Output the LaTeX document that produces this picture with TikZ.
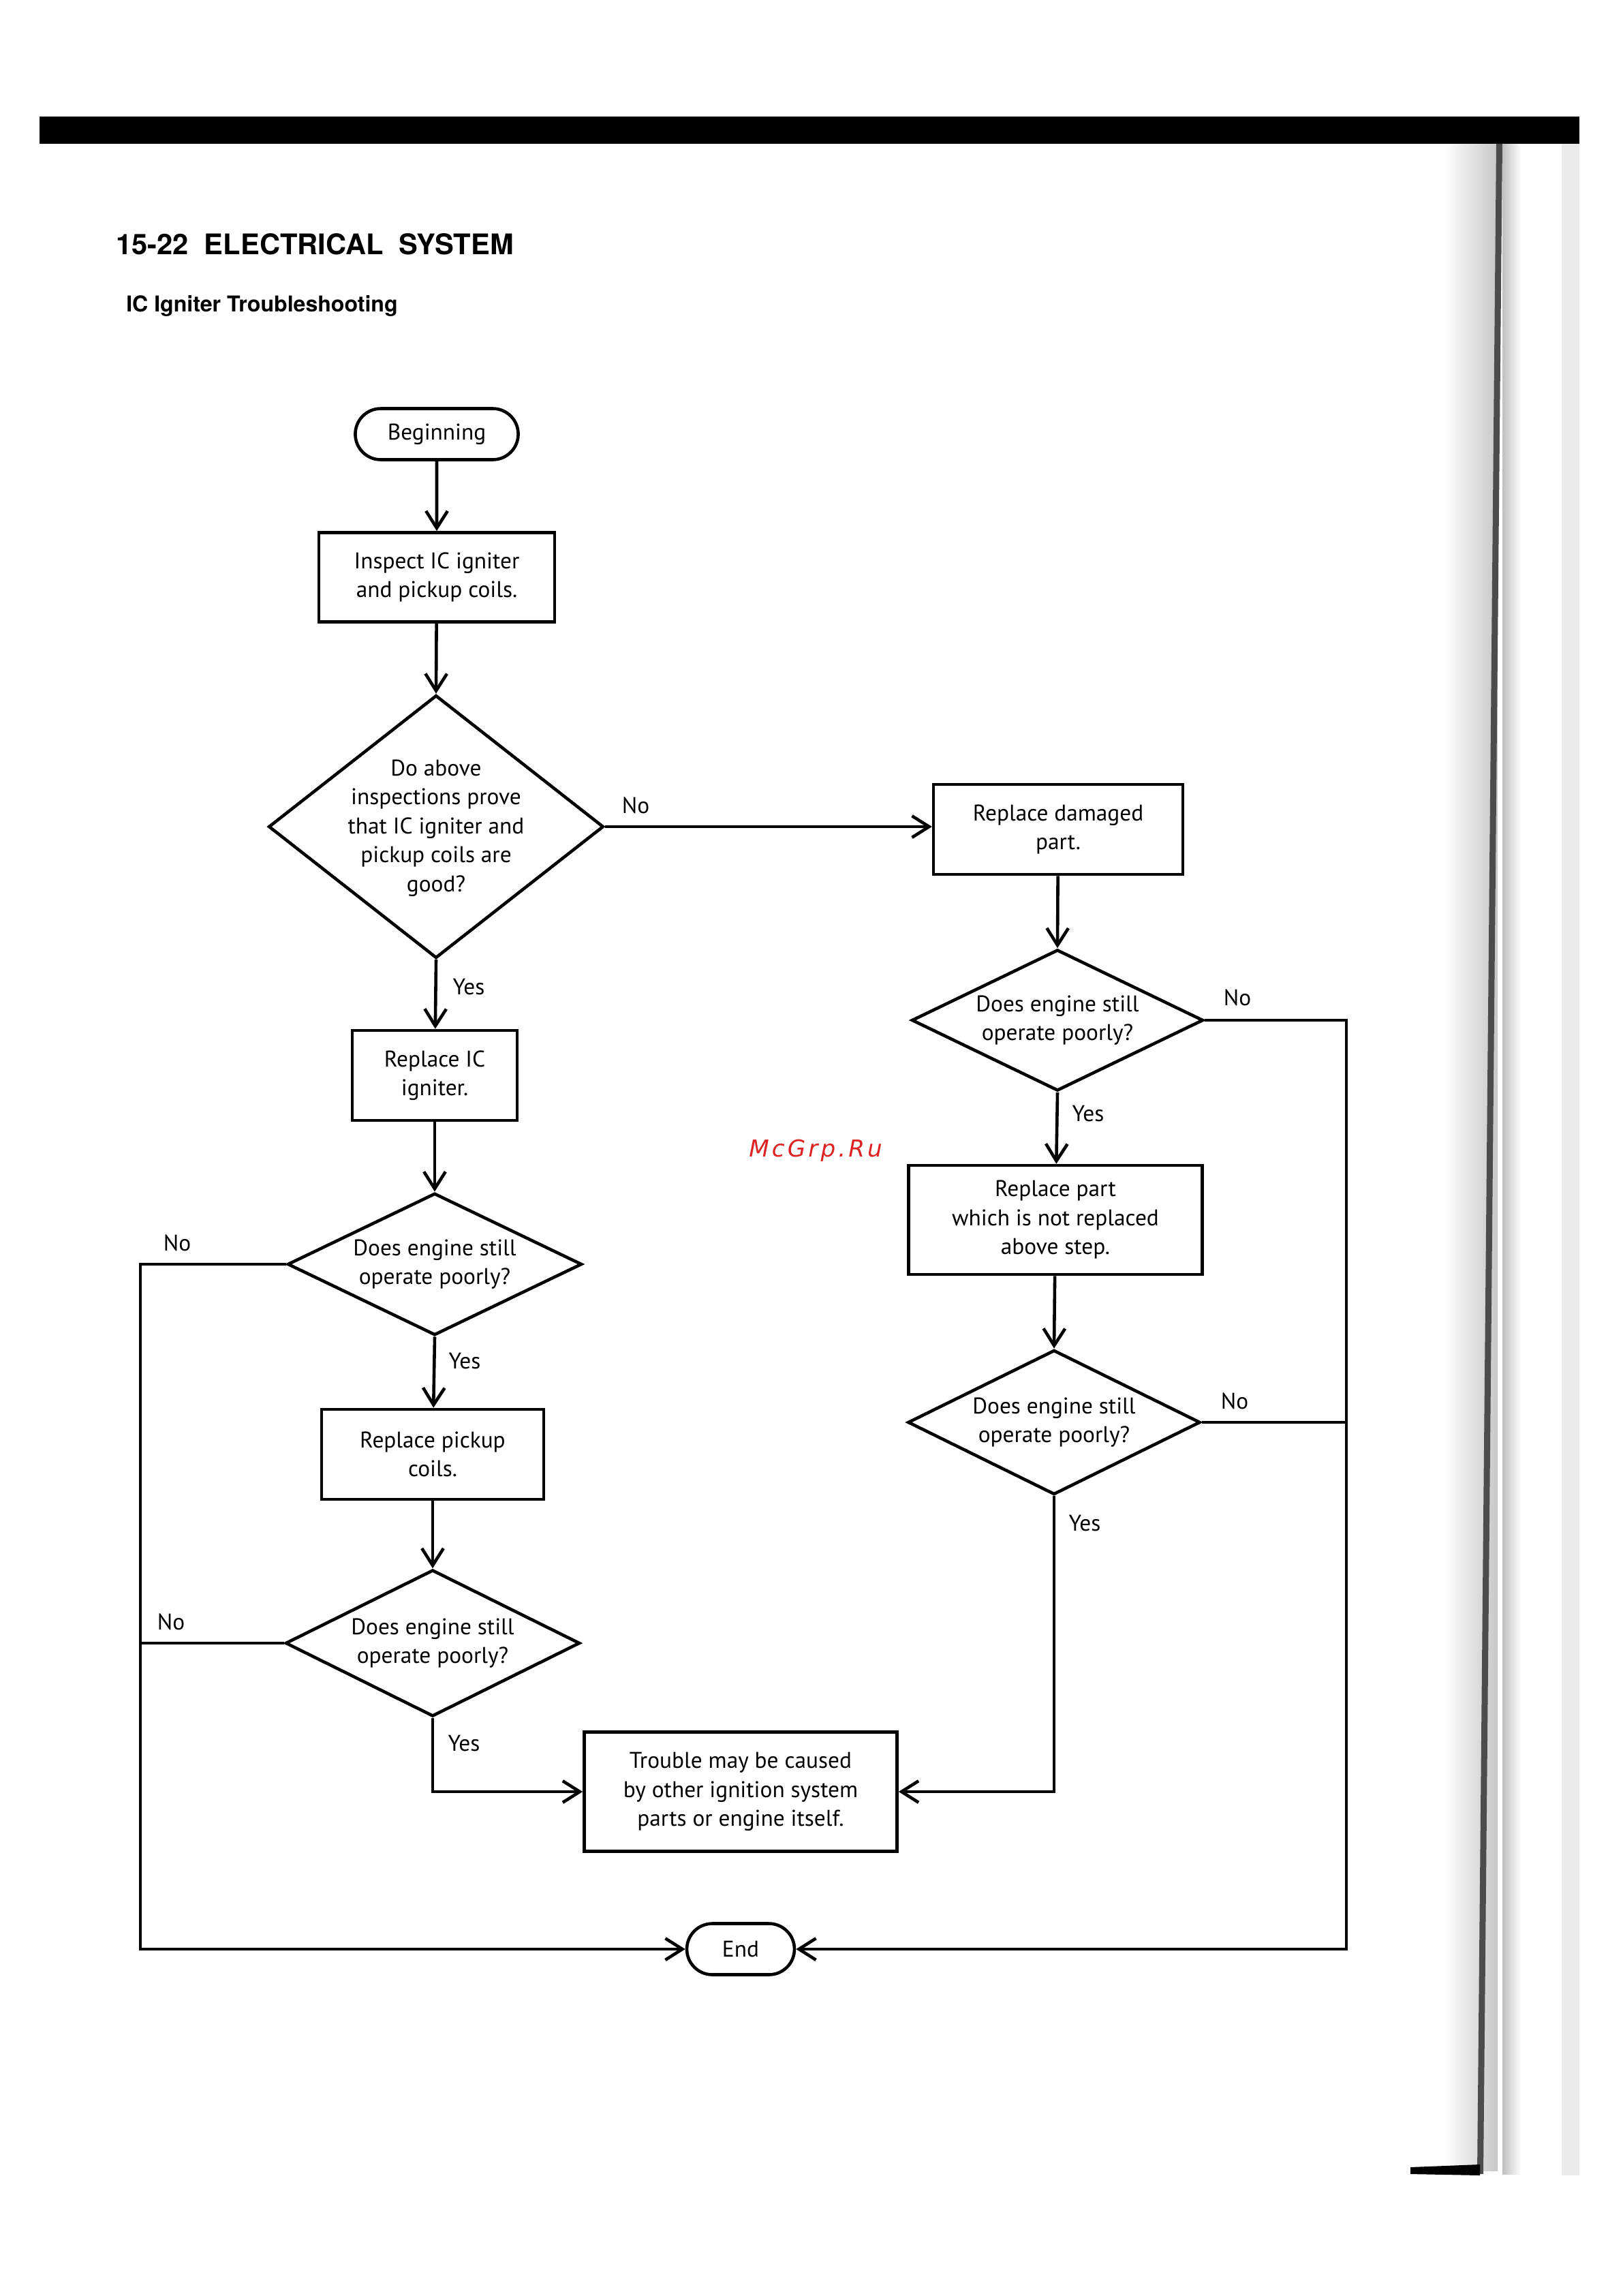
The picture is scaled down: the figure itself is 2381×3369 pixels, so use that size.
\documentclass[tikz,border=0pt]{standalone}
\usepackage{fontspec}
\setmainfont{PT Sans}
\newfontfamily\headfont{TeX Gyre Heros}
\newfontfamily\wmfont[LetterSpace=12]{DejaVu Sans}
\usetikzlibrary{arrows.meta,shapes.geometric,shapes.misc,calc}
\definecolor{wmred}{HTML}{DD2222}
\begin{document}
\begin{tikzpicture}[x=0.24pt,y=-0.24pt,
  line width=1.1pt,
  every node/.style={font=\fontsize{8}{10.2}\selectfont, align=center, inner sep=0pt},
  arr/.style={-{Straight Barb[length=6pt,width=7.6pt,line width=1.1pt]}},
  term/.style={draw, rounded rectangle, minimum height=18pt},
  box/.style={draw, rectangle},
  dia/.style={draw, diamond, inner sep=0pt},
  lbl/.style={font=\fontsize{8}{10}\selectfont}
]
\useasboundingbox (0,0) rectangle (2381,3369);
\fill[white] (0,0) rectangle (2381,3369);

% page decorations (header bar, gutter)
\fill[black] (58,171) rectangle (2318,211);
\shade[left color=white, right color=black!22] (2120,211) rectangle (2198,3185);
\fill[black!70] (2196,211) -- (2205,211) -- (2177,3190) -- (2168,3190) -- cycle;
\shade[left color=black!25, right color=white] (2205,211) rectangle (2232,3190);
\fill[black!8] (2292,211) rectangle (2318,3192);
\fill[black] (2070,3180) -- (2172,3176) -- (2172,3192) -- (2070,3190) -- cycle;

% titles
\node[anchor=base west, font=\headfont\bfseries\fontsize{10}{12}\selectfont] (title) at (168,373) {15-22\ \ ELECTRICAL\ \ SYSTEM};
\node[anchor=base west, font=\headfont\bfseries\fontsize{7.7}{9}\selectfont] (subtitle) at (183,457) {IC Igniter Troubleshooting};

% watermark
\node[anchor=base west, text=wmred, font=\wmfont\itshape\fontsize{8.2}{10}\selectfont] (wm) at (1097,1697) {McGrp.Ru};

% left column
\node[term, minimum width=57.4pt] (beg) at (641,637) {Beginning};
\node[box, minimum width=83pt, minimum height=31.5pt] (insp) at (641,847) {Inspect IC igniter\\and pickup coils.};
\node[dia, minimum width=118pt, minimum height=92.6pt] (d1) at (640,1213) {};
\node (d1t) at (640,1215) {Do above\\inspections prove\\that IC igniter and\\pickup coils are\\good?};
\node[box, minimum width=58.1pt, minimum height=31.7pt] (ric) at (638,1578) {Replace IC\\igniter.};
\node[dia, minimum width=103.7pt, minimum height=50pt] (d2) at (638,1855) {};
\node (d2t) at (638,1855) {Does engine still\\operate poorly?};
\node[box, minimum width=78.2pt, minimum height=31.7pt] (pick) at (635,2134) {Replace pickup\\coils.};
\node[dia, minimum width=103.7pt, minimum height=51.6pt] (d3) at (635,2411) {};
\node (d3t) at (635,2411) {Does engine still\\operate poorly?};

% right column
\node[box, minimum width=87.8pt, minimum height=31.7pt] (dmg) at (1553,1217) {Replace damaged\\part.};
\node[dia, minimum width=102.7pt, minimum height=49.7pt] (d4) at (1552,1497) {};
\node (d4t) at (1552,1497) {Does engine still\\operate poorly?};
\node[box, minimum width=103.4pt, minimum height=38.4pt] (rep) at (1549,1790) {Replace part\\which is not replaced\\above step.};
\node[dia, minimum width=103pt, minimum height=50.9pt] (d5) at (1547,2087) {};
\node (d5t) at (1547,2087) {Does engine still\\operate poorly?};

% bottom
\node[box, minimum width=110.2pt, minimum height=42pt] (trb) at (1087,2629) {Trouble may be caused\\by other ignition system\\parts or engine itself.};
\node[term, minimum width=37.9pt] (endn) at (1087,2860) {End};

% routing coordinates
\coordinate (L) at (206,1855);
\coordinate (R) at (1976,1497);

% connectors
\draw[arr] (beg) -- (insp);
\draw[arr] (insp) -- (d1.north);
\draw[arr] (d1.east) -- (d1.east -| dmg.west);
\draw[arr] (d1.south) -- (ric);
\draw[arr] (ric) -- (d2.north);
\draw[arr] (d2.south) -- (pick);
\draw[arr] (pick) -- (d3.north);
\draw[arr] (d2.west) -- (L) |- (endn.west);
\draw (d3.west) -- (L |- d3.west);
\draw[arr] (d3.south) |- (trb.west);
\draw[arr] (dmg) -- (d4.north);
\draw[arr] (d4.south) -- (rep);
\draw[arr] (rep) -- (d5.north);
\draw[arr] (d4.east) -- (R) |- (endn.east);
\draw (d5.east) -- (R |- d5.east);
\draw[arr] (d5.south) |- (trb.east);

% branch labels
\node[lbl] (n1) at (933,1182) {No};
\node[lbl] (y1) at (688,1448) {Yes};
\node[lbl] (n2) at (260,1824) {No};
\node[lbl] (y2) at (682,1997) {Yes};
\node[lbl] (n3) at (251,2380) {No};
\node[lbl] (y3) at (681,2558) {Yes};
\node[lbl] (n4) at (1816,1464) {No};
\node[lbl] (y4) at (1597,1634) {Yes};
\node[lbl] (n5) at (1812,2056) {No};
\node[lbl] (y5) at (1592,2235) {Yes};
\end{tikzpicture}
\end{document}
